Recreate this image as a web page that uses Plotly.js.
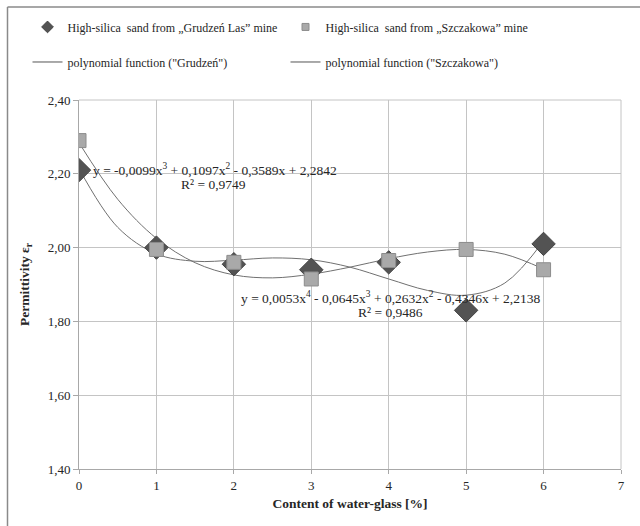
<!DOCTYPE html>
<html>
<head>
<meta charset="utf-8">
<script src="https://cdn.plot.ly/plotly-3.0.1.min.js"></script>
<style>html,body{margin:0;padding:0;background:#fff}#chart{width:640px;height:526px}</style>
</head>
<body>
<div id="chart"></div>
<script>
// Measured points
const xContent = [0, 1, 2, 3, 4, 5, 6];
const grudzen = [2.21, 2.00, 1.955, 1.94, 1.96, 1.83, 2.01];
const szczakowa = [2.29, 1.995, 1.96, 1.915, 1.965, 1.995, 1.94];

// Trend curves
const xTrend = [0, 0.5, 1, 1.5, 2, 2.5, 3, 3.5, 4, 4.5, 5, 5.5, 6];
const trendGrudzen = [2.214, 2.055, 1.983, 1.963, 1.966, 1.972, 1.967, 1.947, 1.915, 1.884, 1.871, 1.904, 2.018];
const trendSzczakowa = [2.284, 2.131, 2.025, 1.959, 1.926, 1.918, 1.928, 1.947, 1.970, 1.988, 1.995, 1.982, 1.942];

const eqGrudzen = "y = 0,0053x<sup>4</sup> - 0,0645x<sup>3</sup> + 0,2632x<sup>2</sup> - 0,4346x + 2,2138";
const r2Grudzen = "R² = 0,9486";
const eqSzczakowa = "y = -0,0099x<sup>3</sup> + 0,1097x<sup>2</sup> - 0,3589x + 2,2842";
const r2Szczakowa = "R² = 0,9749";

const xTicks = [0, 1, 2, 3, 4, 5, 6, 7];
const yTicks = [1.40, 1.60, 1.80, 2.00, 2.20, 2.40];

const seriesNames = ['High-silica  sand from „Grudzeń Las” mine', 'High-silica  sand from „Szczakowa” mine'];
const trendNames = ['polynomial function ("Grudzeń")', 'polynomial function ("Szczakowa")'];

const font = "'Liberation Serif', 'Times New Roman', 'DejaVu Serif', serif";
const txt = '#262626';

const traces = [
  // plotted marks
  {x: xTrend, y: trendGrudzen, mode: 'lines', line: {color: '#707070', width: 1, shape: 'spline'},
   showlegend: false, hoverinfo: 'skip'},
  {x: xTrend, y: trendSzczakowa, mode: 'lines', line: {color: '#707070', width: 1, shape: 'spline'},
   showlegend: false, hoverinfo: 'skip'},
  {x: xContent, y: grudzen, mode: 'markers', showlegend: false,
   marker: {symbol: 'diamond', size: 18, color: '#535353', line: {color: '#424242', width: 1}}},
  {x: xContent, y: szczakowa, mode: 'markers', showlegend: false,
   marker: {symbol: 'square', size: 14, color: '#a9a9a9', line: {color: '#8c8c8c', width: 1}}},
  // legend entries
  {x: [null], y: [null], mode: 'markers', name: seriesNames[0], legend: 'legend',
   marker: {symbol: 'diamond', size: 9, color: '#535353', line: {color: '#424242', width: 1}}},
  {x: [null], y: [null], mode: 'markers', name: seriesNames[1], legend: 'legend',
   marker: {symbol: 'square', size: 7, color: '#a9a9a9', line: {color: '#8c8c8c', width: 1}}},
  {x: [null], y: [null], mode: 'lines', name: trendNames[0], legend: 'legend2',
   line: {color: '#555', width: 1}},
  {x: [null], y: [null], mode: 'lines', name: trendNames[1], legend: 'legend2',
   line: {color: '#555', width: 1}}
];

const legendCommon = {orientation: 'h', xanchor: 'left', yanchor: 'middle',
  entrywidth: 213, entrywidthmode: 'pixels', font: {family: font, size: 12, color: txt},
  traceorder: 'normal', bgcolor: 'rgba(0,0,0,0)', itemsizing: 'trace'};

const layout = {
  width: 640, height: 526,
  margin: {l: 79, r: 19, t: 100, b: 57},
  paper_bgcolor: '#fff', plot_bgcolor: '#fff',
  separators: ', ',
  font: {family: font, size: 12, color: txt},
  showlegend: true,
  legend: Object.assign({x: -0.095, y: 1.198}, legendCommon),
  legend2: Object.assign({x: -0.095, y: 1.103}, legendCommon),
  xaxis: {range: [0, 7], tickvals: xTicks, ticktext: xTicks.map(String),
    showgrid: true, gridcolor: '#c4c4c4', gridwidth: 1,
    showline: true, linecolor: '#a8a8a8', linewidth: 1,
    ticks: 'outside', ticklen: 4, tickcolor: '#a8a8a8',
    zeroline: false, tickfont: {family: font, size: 13, color: txt},
    title: {text: '<b>Content of water-glass [%]</b>', font: {family: font, size: 13.5, color: txt}, standoff: 6}},
  yaxis: {range: [1.40, 2.40], tickvals: yTicks, tickformat: '.2f',
    showgrid: true, gridcolor: '#c4c4c4', gridwidth: 1,
    showline: true, linecolor: '#a8a8a8', linewidth: 1,
    ticks: 'outside', ticklen: 5, tickcolor: '#a8a8a8',
    zeroline: false, tickfont: {family: font, size: 13, color: txt},
    title: {text: '<b>Permittivity ε<sub>r</sub></b>', font: {family: font, size: 13.5, color: txt}, standoff: 14}},
  shapes: [
    {type: 'line', xref: 'paper', yref: 'paper', x0: 1, x1: 1, y0: 0, y1: 1, line: {color: '#c4c4c4', width: 1}},
    {type: 'line', xref: 'paper', yref: 'paper', x0: 0, x1: 1, y0: 1, y1: 1, line: {color: '#c4c4c4', width: 1}},
    {type: 'line', xref: 'paper', yref: 'paper', x0: -71.5/542, x1: 640/542, y0: 462/369, y1: 462/369, line: {color: '#8a8a8a', width: 1.5}},
    {type: 'line', xref: 'paper', yref: 'paper', x0: -71.5/542, x1: -71.5/542, y0: -60/369, y1: 462/369, line: {color: '#8a8a8a', width: 1.5}}
  ],
  annotations: [
    {x: 1.75, y: 2.212, xref: 'x', yref: 'y', text: eqSzczakowa, showarrow: false, font: {family: font, size: 13.5, color: txt}},
    {x: 1.74, y: 2.170, xref: 'x', yref: 'y', text: r2Szczakowa, showarrow: false, font: {family: font, size: 13.5, color: txt}},
    {x: 4.02, y: 1.866, xref: 'x', yref: 'y', text: eqGrudzen, showarrow: false, font: {family: font, size: 13.5, color: txt}},
    {x: 4.02, y: 1.823, xref: 'x', yref: 'y', text: r2Grudzen, showarrow: false, font: {family: font, size: 13.5, color: txt}}
  ]
};

Plotly.newPlot('chart', traces, layout, {displayModeBar: false, staticPlot: true});
</script>
</body>
</html>
